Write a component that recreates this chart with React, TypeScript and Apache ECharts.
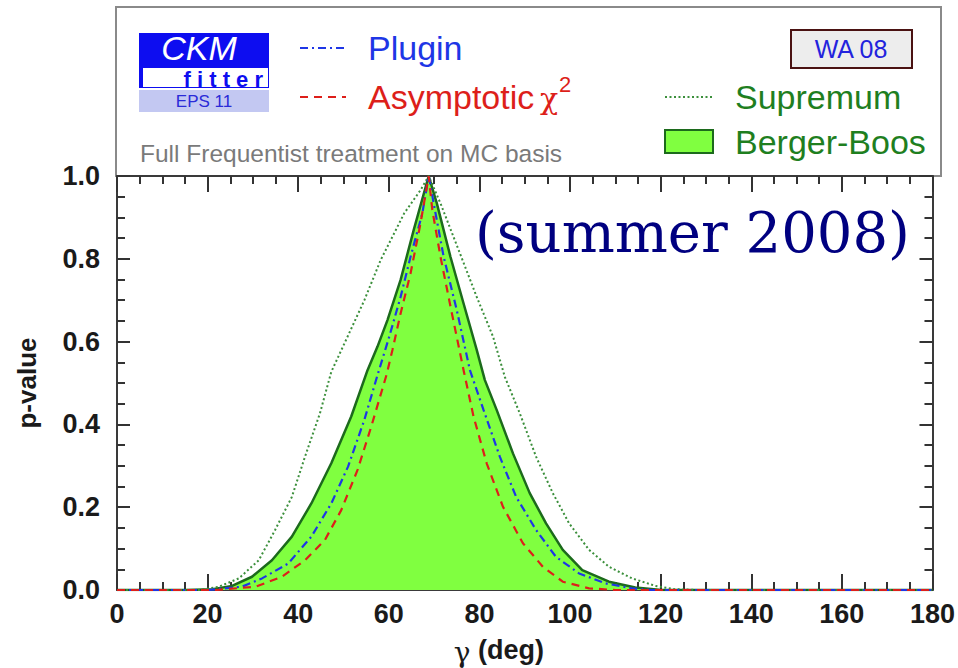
import React, { useEffect, useRef } from "react";
import * as echarts from "echarts";

// p-value curves versus gamma (deg)
const bergerBoos: [number, number][] = [
  [0, 0], [15, 0], [21.1, 0.002], [25.4, 0.01], [29.8, 0.032], [34.2, 0.072],
  [38.6, 0.129], [42.9, 0.209], [47.3, 0.306], [51.7, 0.419], [55.3, 0.531],
  [57.5, 0.588], [59.7, 0.652], [62.6, 0.749], [65.5, 0.87], [68.8, 1.0],
  [70.6, 0.934], [73.6, 0.805], [76.5, 0.692], [79.4, 0.58], [81.2, 0.507],
  [83.8, 0.435], [87.4, 0.33], [91.1, 0.234], [94.7, 0.161], [98.4, 0.097],
  [102.7, 0.048], [108.6, 0.02], [114.4, 0.006], [120.2, 0], [180, 0],
];

const plugin: [number, number][] = [
  [0, 0], [20, 0], [27.6, 0.008], [32.0, 0.028], [37.8, 0.064], [42.9, 0.129],
  [47.3, 0.209], [51.0, 0.298], [54.6, 0.411], [57.5, 0.519], [60.1, 0.612],
  [62.6, 0.708], [64.8, 0.805], [67.4, 0.91], [68.8, 1.0], [69.9, 0.934],
  [72.1, 0.805], [75.0, 0.676], [77.9, 0.531], [80.9, 0.435], [84.5, 0.322],
  [88.1, 0.225], [92.5, 0.145], [96.9, 0.08], [102.0, 0.04], [107.8, 0.016],
  [113.7, 0.004], [118, 0], [180, 0],
];

const asymptotic: [number, number][] = [
  [0, 0], [22, 0], [30.6, 0.008], [36.4, 0.032], [41.5, 0.072], [45.9, 0.121],
  [49.5, 0.193], [53.1, 0.29], [56.1, 0.394], [59.5, 0.52], [60.8, 0.58],
  [62.6, 0.668], [64.8, 0.765], [67.0, 0.886], [68.8, 1.0], [69.6, 0.918],
  [71.4, 0.805], [73.7, 0.68], [76.5, 0.531], [78.7, 0.419], [81.6, 0.306],
  [85.2, 0.201], [89.6, 0.113], [94.0, 0.056], [98.4, 0.02], [104.2, 0.004],
  [110, 0], [180, 0],
];

const supremum: [number, number][] = [
  [0, 0], [18.2, 0], [22.5, 0.008], [26.9, 0.028], [31.3, 0.072], [34.9, 0.145],
  [38.6, 0.225], [41.5, 0.322], [44.8, 0.427], [47.3, 0.527], [50.6, 0.605],
  [54.6, 0.7], [58.2, 0.797], [63.4, 0.91], [67.0, 0.966], [68.8, 1.0],
  [71.4, 0.934], [75.7, 0.813], [79.4, 0.708], [83.0, 0.612], [85.6, 0.515],
  [88.9, 0.427], [92.5, 0.322], [96.2, 0.234], [99.8, 0.161], [104.2, 0.097],
  [108.6, 0.056], [113.7, 0.028], [118.8, 0.01], [123.1, 0.002], [128, 0],
  [180, 0],
];

const gammaRange = [0, 180];
const gammaStep = 20;
const pRange = [0, 1];
const pStep = 0.2;

const seriesNames = ["Plugin", "Asymptotic", "Supremum", "Berger-Boos"];
const chi = "\u03c7";
const gammaSymbol = "\u03b3";
const xTitle = "(deg)";
const yTitle = "p-value";
const subtitle = "Full Frequentist treatment on MC basis";
const tag = "WA 08";
const period = "(summer 2008)";

const SANS = "'Liberation Sans', Arial, Helvetica, sans-serif";
const SERIF = "'DejaVu Serif', serif";

const C_FILL = "#80ff40";
const C_BB = "#1c6a1c";
const C_SUP = "#3b8f3b";
const C_PLUG = "#1e36e6";
const C_ASYM = "#dd1f1a";
const C_GREEN_TXT = "#1f7f1f";
const C_TICK = "#333333";

// plot box in pixels
const GRID = { left: 117, top: 176, width: 823, height: 414 };

function txt(
  text: string,
  x: number,
  y: number,
  size: number,
  fill: string,
  extra: Record<string, any> = {},
  el: Record<string, any> = {}
) {
  const align = extra.align || "left";
  return {
    type: "text",
    x,
    y,
    silent: true,
    ...el,
    style: {
      text,
      fill,
      fontSize: size,
      fontFamily: SANS,
      fontWeight: "normal",
      align,
      textAlign: align,
      verticalAlign: "middle",
      textVerticalAlign: "middle",
      ...extra,
    },
  };
}

export default function App() {
  const ref = useRef<HTMLDivElement>(null);

  useEffect(() => {
    document.body.style.margin = "0";
    const chart = echarts.init(ref.current!, null, { renderer: "svg" });

    const labelStyle = {
      fontFamily: SANS,
      fontWeight: "bold",
      fontSize: 27,
      color: "#1a1a1a",
    };

    // frame axis with inward major and minor ticks
    const frameAxis = (dim: "x" | "y", position: string, major: number, labels: any) => ({
      type: "value",
      position,
      min: dim === "x" ? gammaRange[0] : pRange[0],
      max: dim === "x" ? gammaRange[1] : pRange[1],
      interval: dim === "x" ? gammaStep : pStep,
      axisLine: { show: true, onZero: false, lineStyle: { color: "#3a3a3a", width: 2 } },
      axisTick: { show: true, inside: true, length: major, lineStyle: { color: C_TICK, width: 2 } },
      minorTick: { show: true, splitNumber: 4, length: 8, lineStyle: { color: C_TICK, width: 2 } },
      splitLine: { show: false },
      minorSplitLine: { show: false },
      axisLabel: labels,
    });

    const graphic: any[] = [
      // header frame
      {
        type: "rect",
        shape: { x: 116, y: 7, width: 825, height: 169 },
        style: { fill: "none", stroke: "#8a8a8a", lineWidth: 2 },
        silent: true,
      },
      // logo
      { type: "rect", shape: { x: 139, y: 33, width: 130, height: 55 }, style: { fill: "#0d0df0" }, silent: true },
      { type: "rect", shape: { x: 143, y: 68, width: 125, height: 19 }, style: { fill: "#ffffff" }, silent: true },
      { type: "rect", shape: { x: 139, y: 90, width: 130, height: 22 }, style: { fill: "#c3c8f2" }, silent: true },
      txt("CKM", 199, 48, 34, "#ffffff", { align: "center", fontStyle: "italic" }),
      txt("f i t t e r", 263, 79, 22, "#0d0df0", { align: "right", fontWeight: "bold" }),
      txt("EPS 11", 204, 101, 17, "#2a2ad8", { align: "center" }),
      // legend, left column
      {
        type: "line",
        shape: { x1: 300, y1: 48, x2: 346, y2: 48 },
        style: { stroke: C_PLUG, lineWidth: 2, lineDash: [8, 4, 2, 4] },
        silent: true,
      },
      txt(seriesNames[0], 368, 48, 34, C_PLUG),
      {
        type: "line",
        shape: { x1: 300, y1: 97, x2: 346, y2: 97 },
        style: { stroke: C_ASYM, lineWidth: 2, lineDash: [8, 6] },
        silent: true,
      },
      txt(seriesNames[1], 368, 97, 34, C_ASYM),
      txt(chi, 540, 98, 30, C_ASYM, { fontFamily: SERIF }),
      txt("2", 559, 84, 22, C_ASYM),
      txt(subtitle, 140, 153, 24.5, "#7a7a7a"),
      // tag box
      {
        type: "rect",
        shape: { x: 791, y: 30, width: 121, height: 38 },
        style: { fill: "#ededed", stroke: "#4a1212", lineWidth: 2 },
        silent: true,
      },
      txt(tag, 851, 49, 25, "#2323dd", { align: "center" }),
      // legend, right column
      {
        type: "line",
        shape: { x1: 665, y1: 97, x2: 712, y2: 97 },
        style: { stroke: C_SUP, lineWidth: 2, lineDash: [2, 2.5] },
        silent: true,
      },
      txt(seriesNames[2], 735, 97, 34, C_GREEN_TXT),
      {
        type: "rect",
        shape: { x: 665, y: 130, width: 48, height: 23 },
        style: { fill: C_FILL, stroke: C_BB, lineWidth: 2 },
        silent: true,
      },
      txt(seriesNames[3], 735, 142, 34, C_GREEN_TXT),
      // period label
      txt(period, 475, 232, 56, "#000080", { fontFamily: SERIF }),
      // axis titles
      txt(gammaSymbol, 462, 652, 28, "#1a1a1a", { align: "center", fontFamily: SERIF }),
      txt(xTitle, 478, 650, 27, "#1a1a1a", { fontWeight: "bold" }),
      txt(yTitle, 27, 383, 26, "#1a1a1a", { align: "center", fontWeight: "bold" }, { rotation: Math.PI / 2 }),
    ];

    chart.setOption({
      animation: false,
      backgroundColor: "#ffffff",
      grid: { ...GRID, containLabel: false },
      xAxis: [
        frameAxis("x", "bottom", 16, { ...labelStyle, margin: 10 }),
        frameAxis("x", "top", 16, { show: false }),
      ],
      yAxis: [
        frameAxis("y", "left", 13, {
          ...labelStyle,
          margin: 17,
          formatter: (v: number) => v.toFixed(1),
        }),
        frameAxis("y", "right", 13, { show: false }),
      ],
      series: [
        {
          name: seriesNames[3],
          type: "line",
          data: bergerBoos,
          showSymbol: false,
          lineStyle: { color: C_BB, width: 2.5 },
          areaStyle: { color: C_FILL, opacity: 1 },
        },
        {
          name: seriesNames[2],
          type: "line",
          data: supremum,
          showSymbol: false,
          lineStyle: { color: C_SUP, width: 2, type: [2, 2.5] },
        },
        {
          name: seriesNames[0],
          type: "line",
          data: plugin,
          showSymbol: false,
          lineStyle: { color: C_PLUG, width: 2.2, type: [8, 4, 2, 4] },
        },
        {
          name: seriesNames[1],
          type: "line",
          data: asymptotic,
          showSymbol: false,
          lineStyle: { color: C_ASYM, width: 2.2, type: [8, 6] },
        },
      ],
      graphic,
    });

    return () => chart.dispose();
  }, []);

  return <div ref={ref} style={{ width: 958, height: 668 }} />;
}
